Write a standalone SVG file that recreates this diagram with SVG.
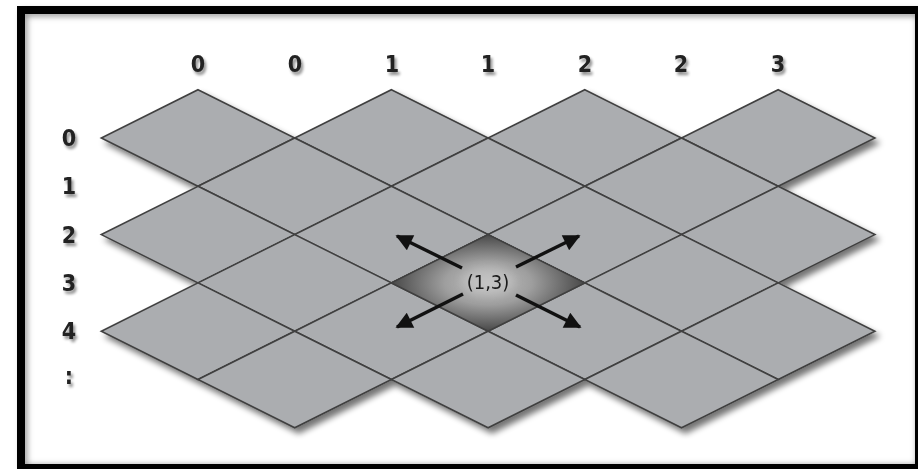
<svg xmlns="http://www.w3.org/2000/svg" xmlns:xlink="http://www.w3.org/1999/xlink" width="918" height="469" viewBox="0 0 918 469">
  <style>
    .tile { fill: #abadb0; stroke: #404040; stroke-width: 1.6; stroke-linejoin: miter; }
    .lbl { font-family: "DejaVu Sans", "Liberation Sans", Arial, sans-serif; font-stretch: condensed; font-weight: bold; font-size: 23px; fill: #222; text-anchor: middle; filter: url(#txtShadow); }
    .arrow { stroke: #111; stroke-width: 3.5; fill: none; marker-end: url(#head); }
    .coord { font-family: "DejaVu Sans", "Liberation Sans", Arial, sans-serif; font-stretch: condensed; font-size: 20px; fill: #1a1a1a; text-anchor: middle; }
  </style>
  <defs>
    <polygon id="d" points="0,-48.3 96.7,0 0,48.3 -96.7,0"/>
    <filter id="gridShadow" x="-5%" y="-5%" width="115%" height="120%">
      <feGaussianBlur in="SourceAlpha" stdDeviation="3"/>
      <feOffset dx="4" dy="5" result="b"/>
      <feComponentTransfer in="b" result="s"><feFuncA type="linear" slope="0.55"/></feComponentTransfer>
      <feMerge><feMergeNode in="s"/><feMergeNode in="SourceGraphic"/></feMerge>
    </filter>
    <filter id="txtShadow" x="-50%" y="-50%" width="200%" height="200%">
      <feGaussianBlur in="SourceAlpha" stdDeviation="1.8"/>
      <feOffset dx="2" dy="3" result="b"/>
      <feComponentTransfer in="b" result="s"><feFuncA type="linear" slope="0.45"/></feComponentTransfer>
      <feMerge><feMergeNode in="s"/><feMergeNode in="SourceGraphic"/></feMerge>
    </filter>
    <filter id="frameShadow" x="-5%" y="-5%" width="110%" height="110%">
      <feGaussianBlur stdDeviation="3"/>
    </filter>
    <filter id="glow" x="-50%" y="-50%" width="200%" height="200%">
      <feGaussianBlur stdDeviation="4"/>
    </filter>
    <radialGradient id="hl" cx="0.5" cy="0.5" r="0.5">
      <stop offset="0" stop-color="#c2c2c2"/>
      <stop offset="0.45" stop-color="#9e9e9e"/>
      <stop offset="1" stop-color="#484848"/>
    </radialGradient>
    <marker id="head" viewBox="0 0 10 10" refX="9" refY="5" markerWidth="5.6" markerHeight="4.8" orient="auto" markerUnits="strokeWidth">
      <path d="M0,0 L10,5 L0,10 z" fill="#111"/>
    </marker>
  </defs>

  <rect width="918" height="469" fill="#ffffff"/>

  <!-- frame -->
  <g id="frame">
    <rect x="24" y="13" width="896" height="455" fill="none" stroke="#8a8a8a" stroke-width="6" filter="url(#frameShadow)"/>
    <rect x="21" y="10" width="898" height="458" fill="none" stroke="#000" stroke-width="8"/>
  </g>

  <!-- grid -->
  <g id="grid" filter="url(#gridShadow)">
    <g id="row0">
      <use xlink:href="#d" class="tile" x="198" y="138"/>
      <use xlink:href="#d" class="tile" x="391.4" y="138"/>
      <use xlink:href="#d" class="tile" x="584.8" y="138"/>
      <use xlink:href="#d" class="tile" x="778.2" y="138"/>
    </g>
    <g id="row1">
      <use xlink:href="#d" class="tile" x="294.7" y="186.3"/>
      <use xlink:href="#d" class="tile" x="488.1" y="186.3"/>
      <use xlink:href="#d" class="tile" x="681.5" y="186.3"/>
    </g>
    <g id="row2">
      <use xlink:href="#d" class="tile" x="198" y="234.6"/>
      <use xlink:href="#d" class="tile" x="391.4" y="234.6"/>
      <use xlink:href="#d" class="tile" x="584.8" y="234.6"/>
      <use xlink:href="#d" class="tile" x="778.2" y="234.6"/>
    </g>
    <g id="row3">
      <use xlink:href="#d" class="tile" x="294.7" y="282.9"/>
      <use xlink:href="#d" class="tile" x="488.1" y="282.9"/>
      <use xlink:href="#d" class="tile" x="681.5" y="282.9"/>
    </g>
    <g id="row4">
      <use xlink:href="#d" class="tile" x="198" y="331.2"/>
      <use xlink:href="#d" class="tile" x="391.4" y="331.2"/>
      <use xlink:href="#d" class="tile" x="584.8" y="331.2"/>
      <use xlink:href="#d" class="tile" x="778.2" y="331.2"/>
    </g>
    <g id="row5">
      <use xlink:href="#d" class="tile" x="294.7" y="379.5"/>
      <use xlink:href="#d" class="tile" x="488.1" y="379.5"/>
      <use xlink:href="#d" class="tile" x="681.5" y="379.5"/>
    </g>
  </g>

  <!-- highlighted tile (1,3) -->
  <g id="tile-1-3">
    <polygon points="488.1,234.6 584.8,282.9 488.1,331.2 391.4,282.9" fill="url(#hl)" stroke="#404040" stroke-width="1.6"/>
    <ellipse cx="488" cy="281" rx="26" ry="14" fill="#c8c8c8" opacity="0.5" filter="url(#glow)"/>
    <text class="coord" x="488" y="289">(1,3)</text>
  </g>

  <!-- connectors -->
  <g id="connectors">
    <line class="arrow" x1="462" y1="268" x2="397" y2="236"/>
    <line class="arrow" x1="516" y1="267" x2="579" y2="236"/>
    <line class="arrow" x1="463" y1="294" x2="397" y2="327"/>
    <line class="arrow" x1="516" y1="295" x2="580" y2="327"/>
  </g>

  <!-- column labels -->
  <g id="col-labels">
    <text class="lbl" x="198" y="71.5">0</text>
    <text class="lbl" x="295" y="71.5">0</text>
    <text class="lbl" x="392" y="71.5">1</text>
    <text class="lbl" x="488" y="71.5">1</text>
    <text class="lbl" x="585" y="71.5">2</text>
    <text class="lbl" x="681" y="71.5">2</text>
    <text class="lbl" x="778" y="71.5">3</text>
  </g>

  <!-- row labels -->
  <g id="row-labels">
    <text class="lbl" x="69" y="145.5">0</text>
    <text class="lbl" x="69" y="194">1</text>
    <text class="lbl" x="69" y="242.5">2</text>
    <text class="lbl" x="69" y="290.5">3</text>
    <text class="lbl" x="69" y="339">4</text>
    <text class="lbl" x="69" y="384">:</text>
  </g>
</svg>
